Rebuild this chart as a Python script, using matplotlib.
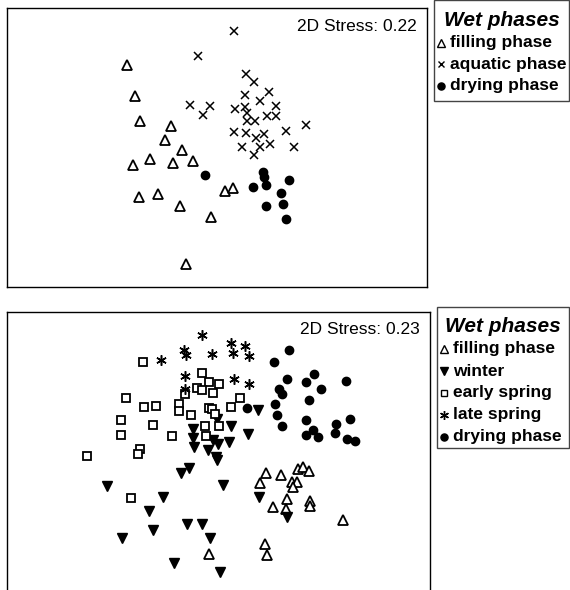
import matplotlib
matplotlib.use("Agg")
import matplotlib.pyplot as plt
from matplotlib.lines import Line2D
from matplotlib.patches import Rectangle

plt.rcParams['font.family'] = ['Liberation Sans', 'DejaVu Sans']

# ordination scores (screen units, y grows downward)
# --- upper panel: wet phases
top_fill_x = [380, 405, 418, 512, 493, 545, 448, 397, 517, 577, 415, 474, 538, 631, 675, 698, 556]
top_fill_y = [195, 288, 365, 380, 420, 452, 477, 495, 489, 483, 592, 582, 620, 652, 575, 565, 793]

top_aqua_x = [700, 593, 737, 760, 733, 805, 780, 568, 630, 608, 705, 733, 740, 740, 765,
              800, 828, 828, 916, 858, 700, 738, 768, 790, 725, 780, 810, 760, 880]
top_aqua_y = [95, 170, 222, 247, 285, 278, 303, 317, 320, 345, 328, 322, 340, 365, 365,
              350, 320, 350, 375, 395, 398, 400, 415, 402, 443, 443, 432, 465, 443]

top_dry_x = [615, 788, 790, 758, 798, 865, 843, 797, 848, 856]
top_dry_y = [527, 517, 532, 563, 557, 542, 580, 618, 613, 658]

top_labels = ['filling phase', 'aquatic phase', 'drying phase']

# --- lower panel: wet phases split by season
bot_late_x = [600, 545, 550, 478, 628, 685, 727, 690, 738, 548, 693, 738, 548]
bot_late_y = [105, 150, 165, 178, 162, 128, 138, 158, 168, 228, 235, 252, 265]

bot_early_x = [423, 598, 620, 650, 585, 598, 630, 548, 373, 712, 425, 463, 530, 530, 565,
               618, 628, 685, 637, 358, 453, 608, 648, 358, 510, 610, 416, 410, 258, 388]
bot_early_y = [185, 218, 245, 250, 262, 268, 277, 282, 293, 293, 320, 318, 310, 332, 344,
               323, 325, 320, 340, 358, 375, 378, 378, 403, 408, 408, 447, 460, 467, 595]

bot_win_x = [766, 643, 572, 686, 735, 572, 575, 630, 645, 678, 615, 640, 643, 560,
             537, 318, 662, 484, 767, 442, 850, 555, 600, 453, 362, 623, 515, 652]
bot_win_y = [330, 355, 385, 378, 402, 412, 440, 420, 432, 425, 450, 470, 480, 505,
             518, 558, 555, 590, 590, 633, 650, 673, 673, 690, 713, 713, 790, 815]

bot_dry_x = [857, 812, 852, 906, 932, 1025, 826, 835, 953, 917, 731, 815, 820, 835,
             906, 927, 908, 942, 995, 1038, 993, 1028, 1052]
bot_dry_y = [148, 185, 235, 245, 222, 242, 265, 282, 267, 298, 322, 310, 345, 378,
             358, 388, 405, 410, 370, 357, 397, 415, 423]

bot_fill_x = [787, 832, 882, 898, 915, 770, 865, 880, 868, 850, 918, 920, 810, 848, 1018, 785, 790, 618]
bot_fill_y = [520, 525, 507, 502, 512, 548, 545, 547, 562, 597, 603, 617, 620, 627, 660, 733, 765, 763]

bot_labels = ['filling phase', 'winter', 'early spring', 'late spring', 'drying phase']

W, H = 570, 590
fig = plt.figure(figsize=(W / 100, H / 100), dpi=100)


def px(x0, y0, x1, y1):
    return [x0 / W, 1 - y1 / H, (x1 - x0) / W, (y1 - y0) / H]


tri = dict(marker='^', ms=6.8, mfc='white', mec='black', mew=1.3, ls='none')
cross = dict(marker='x', ms=5.2, mec='black', mew=1.1, ls='none')
dot = dict(marker='o', ms=6.0, mfc='black', mec='black', ls='none')
down = dict(marker='v', ms=7.0, mfc='black', mec='black', ls='none')
square = dict(marker='s', ms=5.2, mfc='white', mec='black', mew=1.3, ls='none')
star = dict(marker=(6, 2, 0), ms=7.5, mec='black', mew=1.1, ls='none')

# upper panel
ax1 = fig.add_axes(px(7, 8, 427, 287))
ax1.plot(top_fill_x, top_fill_y, **tri)
ax1.plot(top_aqua_x, top_aqua_y, **cross)
ax1.plot(top_dry_x, top_dry_y, **dot)
ax1.set_xlim(20, 1280)
ax1.set_ylim(862, 25)
ax1.set_xticks([])
ax1.set_yticks([])
ax1.text(0.975, 0.96, '2D Stress: 0.22', transform=ax1.transAxes,
         ha='right', va='top', fontsize=12.5)

# lower panel (cut off at the bottom of the image)
ax2 = fig.add_axes(px(7, 312, 430, 600))
ax2.plot(bot_fill_x, bot_fill_y, **tri)
ax2.plot(bot_win_x, bot_win_y, **down)
ax2.plot(bot_early_x, bot_early_y, **square)
ax2.plot(bot_late_x, bot_late_y, **star)
ax2.plot(bot_dry_x, bot_dry_y, **dot)
ax2.set_xlim(20, 1275)
ax2.set_ylim(900, 35)
ax2.set_xticks([])
ax2.set_yticks([])
ax2.spines['bottom'].set_visible(False)
ax2.text(0.975, 0.965, '2D Stress: 0.23', transform=ax2.transAxes,
         ha='right', va='top', fontsize=12.5)

for ax in (ax1, ax2):
    for s in ax.spines.values():
        s.set_linewidth(1.0)


# legend boxes sit outside the panels, drawn by hand to get the spacing right
def legend_box(x0, y0, x1, y1, styles, labels, step=22):
    fig.add_artist(Rectangle((x0 / W, 1 - y1 / H), (x1 - x0) / W, (y1 - y0) / H,
                             transform=fig.transFigure, fill=False,
                             ec='#444444', lw=1.0))
    fig.text((x0 + x1) / 2 / W, 1 - (y0 + 20) / H, 'Wet phases', ha='center',
             va='center', fontsize=15, style='italic', weight='bold')
    for i, (st, lab) in enumerate(zip(styles, labels)):
        y = 1 - (y0 + 42 + step * i) / H
        st = dict(st)
        st['ms'] = st['ms'] * 0.85
        st['mew'] = min(st.get('mew', 1.0), 1.0)
        fig.add_artist(Line2D([(x0 + 7) / W], [y], transform=fig.transFigure, **st))
        fig.text((x0 + 16) / W, y, lab, ha='left', va='center',
                 fontsize=12.5, weight='bold')


legend_box(434, 0.5, 569, 101, [tri, cross, dot], top_labels, step=21.5)
legend_box(437, 307, 569, 448, [tri, down, square, star, dot], bot_labels, step=22)

fig.savefig('out.png', dpi=100)
